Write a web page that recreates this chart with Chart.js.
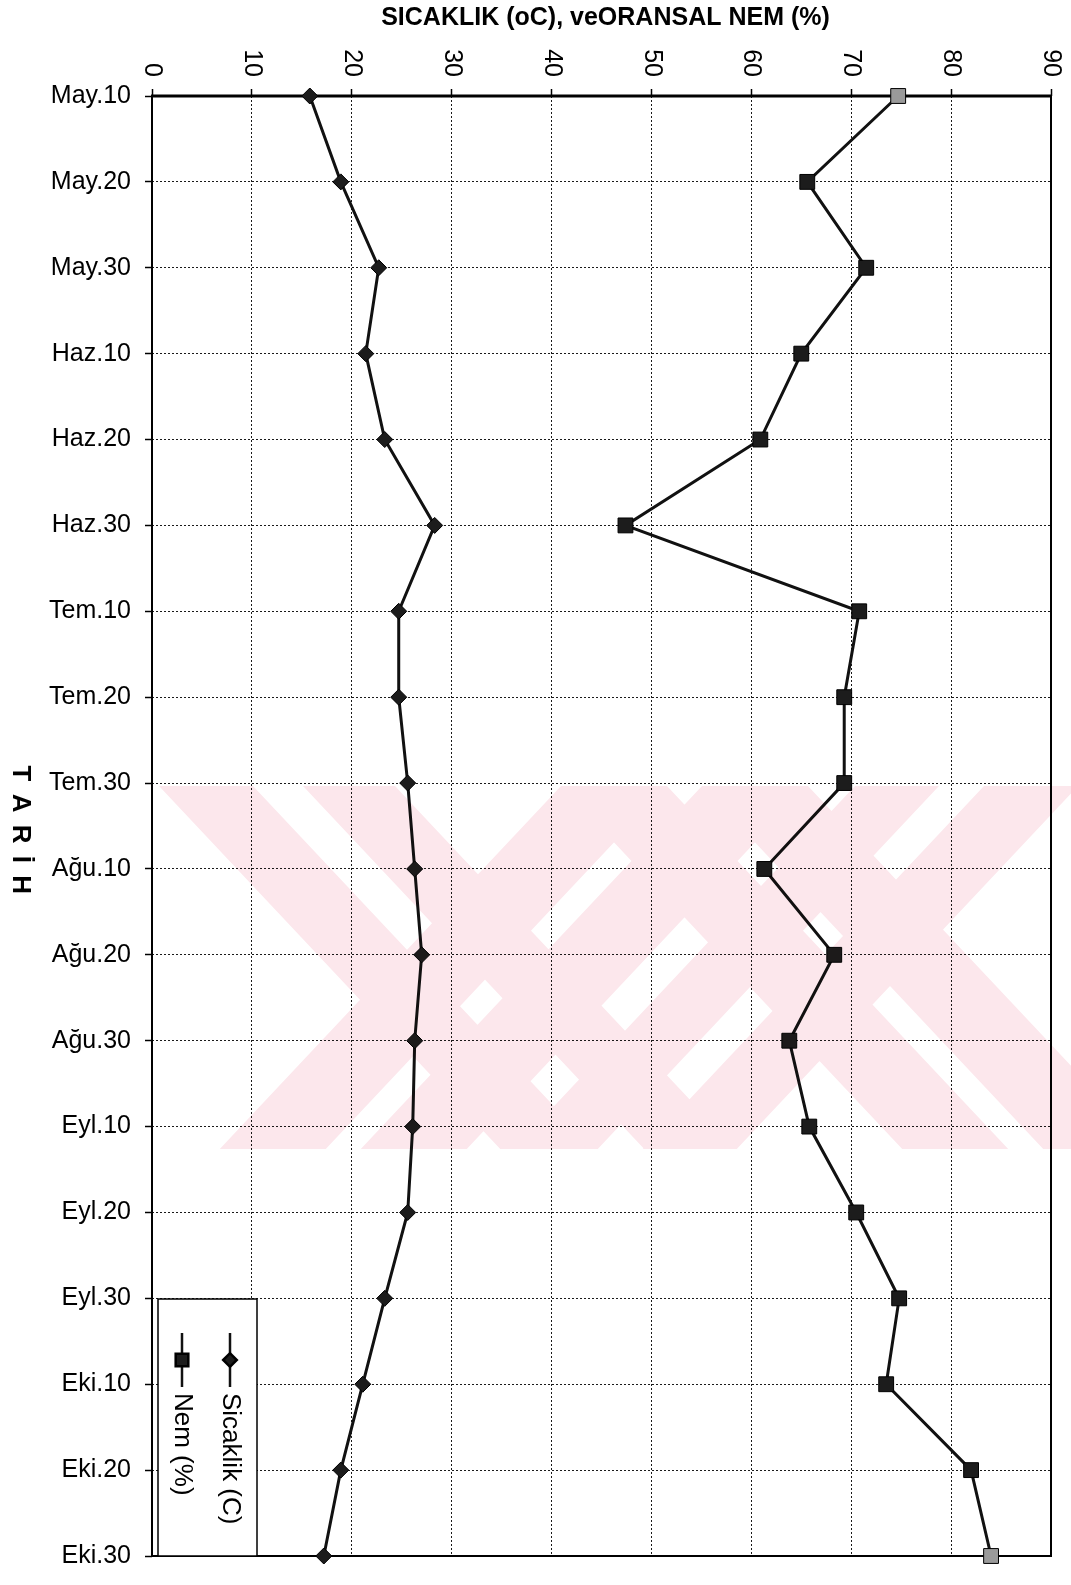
<!DOCTYPE html>
<html>
<head>
<meta charset="utf-8">
<script src="https://cdn.jsdelivr.net/npm/chart.js@4.4.1/dist/chart.umd.min.js"></script>
<style>
  html, body { margin: 0; padding: 0; background: #ffffff; }
  #wrap { position: relative; width: 1071px; height: 1585px; }
</style>
</head>
<body>
<div id="wrap"><canvas id="c" width="1071" height="1585"></canvas></div>
<script>
// Ten-day readings, May to October
const categories = ['May.10', 'May.20', 'May.30', 'Haz.10', 'Haz.20', 'Haz.30',
  'Tem.10', 'Tem.20', 'Tem.30', 'Ağu.10', 'Ağu.20', 'Ağu.30',
  'Eyl.10', 'Eyl.20', 'Eyl.30', 'Eki.10', 'Eki.20', 'Eki.30'];

// Air temperature (°C)
const sicaklik = [15.8, 18.9, 22.7, 21.4, 23.3, 28.3, 24.7, 24.7, 25.6,
  26.3, 27.0, 26.3, 26.1, 25.6, 23.3, 21.1, 18.9, 17.2];

// Relative humidity (%)
const nem = [74.7, 65.6, 71.5, 65.0, 60.9, 47.4, 70.8, 69.3, 69.3,
  61.3, 68.3, 63.8, 65.8, 70.5, 74.8, 73.5, 82.0, 84.0];

const valueTicks = [0, 10, 20, 30, 40, 50, 60, 70, 80, 90];
const seriesNames = ['Sicaklik (C)', 'Nem (%)'];
const chartTitle = 'SICAKLIK (oC), veORANSAL NEM (%)';
const dateAxisTitle = 'T A R İ H';

const FONT = '"Liberation Sans", Arial, Helvetica, sans-serif';
const INK = '#111111';

// Faint pink emblem behind the middle of the plot: slanted bands
const EMBLEM = {
  left: 157, top: 786, right: 1071, bottom: 1149,
  slope: 0.94,
  color: 'rgb(252, 231, 236)',
  // [x at top edge, x at top edge, directions]
  bands: [
    [159, 253, 'down'], [303, 395, 'down'],
    [561, 667, 'both'], [702, 808, 'both'],
    [855, 939, 'up'], [984, 1078, 'up']
  ]
};

const emblem = {
  id: 'emblem',
  afterDraw(chart) {
    const { ctx } = chart;
    const e = EMBLEM;
    const h = e.bottom - e.top;
    const dx = e.slope * h;
    ctx.save();
    ctx.beginPath();
    ctx.rect(e.left, e.top, e.right - e.left, h);
    ctx.clip();
    ctx.globalCompositeOperation = 'multiply';
    ctx.fillStyle = e.color;
    ctx.beginPath();
    e.bands.forEach(([a, b, dir]) => {
      if (dir === 'down' || dir === 'both') {
        ctx.moveTo(a, e.top); ctx.lineTo(b, e.top);
        ctx.lineTo(b + dx, e.bottom); ctx.lineTo(a + dx, e.bottom); ctx.closePath();
      }
      if (dir === 'up' || dir === 'both') {
        ctx.moveTo(a, e.top); ctx.lineTo(b, e.top);
        ctx.lineTo(b - dx, e.bottom); ctx.lineTo(a - dx, e.bottom); ctx.closePath();
      }
    });
    ctx.fill('nonzero');
    ctx.restore();
  }
};

// Plot frame, title, rotated value labels, rotated axis title and legend
const decorations = {
  id: 'decorations',
  beforeDatasetsDraw(chart) {
    const { ctx, chartArea: a } = chart;
    ctx.save();
    ctx.strokeStyle = '#000';
    ctx.lineWidth = 2;
    ctx.strokeRect(a.left, a.top, a.right - a.left, a.bottom - a.top);
    ctx.lineWidth = 3;
    ctx.beginPath();
    ctx.moveTo(a.left - 1, a.top);
    ctx.lineTo(a.right + 1, a.top);
    ctx.stroke();
    ctx.restore();
  },
  afterDraw(chart) {
    const { ctx, chartArea: a, scales } = chart;
    const xs = scales.x;
    ctx.save();
    ctx.fillStyle = '#000';

    // title
    ctx.font = 'bold 25px ' + FONT;
    ctx.textAlign = 'center';
    ctx.textBaseline = 'middle';
    ctx.fillText(chartTitle, (a.left + a.right) / 2 + 4, 18);

    // value labels, turned a quarter clockwise, ending just above the ticks
    ctx.font = '25px ' + FONT;
    xs.ticks.forEach(t => {
      const px = xs.getPixelForValue(t.value);
      ctx.save();
      ctx.translate(px, a.top - 19);
      ctx.rotate(Math.PI / 2);
      ctx.textAlign = 'right';
      ctx.textBaseline = 'middle';
      ctx.fillText(String(t.value), 0, 0);
      ctx.restore();
    });

    // date axis title
    ctx.save();
    ctx.font = 'bold 26px ' + FONT;
    try { ctx.letterSpacing = '2.5px'; } catch (e) {}
    ctx.translate(20, 831);
    ctx.rotate(Math.PI / 2);
    ctx.textAlign = 'center';
    ctx.textBaseline = 'middle';
    ctx.fillText(dateAxisTitle, 0, 0);
    ctx.restore();

    // legend box
    const box = { x: 158, y: 1299, w: 99, h: 257 };
    ctx.fillStyle = '#fff';
    ctx.fillRect(box.x, box.y, box.w, box.h);
    ctx.strokeStyle = '#000';
    ctx.lineWidth = 1.5;
    ctx.strokeRect(box.x, box.y, box.w, box.h);

    chart.data.datasets.forEach((ds, i) => {
      const cx = box.x + 72 - i * 48;
      ctx.strokeStyle = ds.borderColor;
      ctx.lineWidth = 2.5;
      ctx.beginPath();
      ctx.moveTo(cx, box.y + 34);
      ctx.lineTo(cx, box.y + 88);
      ctx.stroke();
      ctx.save();
      ctx.fillStyle = '#1c1c1c';
      ctx.strokeStyle = '#000';
      Chart.helpers.drawPoint(ctx, {
        pointStyle: ds.pointStyle,
        radius: ds.pointRadius * 0.85,
        borderWidth: ds.pointBorderWidth,
        rotation: 0
      }, cx, box.y + 61);
      ctx.restore();
      ctx.save();
      ctx.fillStyle = '#000';
      ctx.font = '26px ' + FONT;
      ctx.translate(cx, box.y + 94);
      ctx.rotate(Math.PI / 2);
      ctx.textAlign = 'left';
      ctx.textBaseline = 'middle';
      ctx.fillText(ds.label, 0, 0);
      ctx.restore();
    });
    ctx.restore();
  }
};

const gridLook = {
  color: '#1a1a1a',
  lineWidth: 1,
  borderDash: [2, 2],
  drawTicks: true,
  tickLength: 7,
  tickColor: '#000',
  tickWidth: 1.5,
  tickBorderDash: []
};

new Chart(document.getElementById('c'), {
  type: 'line',
  data: {
    labels: categories,
    datasets: [
      {
        label: seriesNames[0],
        data: sicaklik,
        borderColor: INK,
        borderWidth: 3,
        pointStyle: 'rectRot',
        pointRadius: 8,
        pointBackgroundColor: '#1c1c1c',
        pointBorderColor: '#000',
        pointBorderWidth: 1,
        tension: 0,
        clip: false
      },
      {
        label: seriesNames[1],
        data: nem,
        borderColor: INK,
        borderWidth: 3,
        pointStyle: 'rect',
        pointRadius: 10.5,
        pointBackgroundColor: c => (c.dataIndex === 0 || c.dataIndex === nem.length - 1) ? '#9a9a9a' : '#1c1c1c',
        pointBorderColor: '#000',
        pointBorderWidth: 1,
        tension: 0,
        clip: false
      }
    ]
  },
  options: {
    indexAxis: 'y',
    responsive: false,
    animation: false,
    devicePixelRatio: 1,
    layout: { padding: { left: 0, top: 0, right: 20, bottom: 19 } },
    plugins: {
      legend: { display: false },
      title: { display: false },
      tooltip: { enabled: false }
    },
    scales: {
      x: {
        type: 'linear',
        position: 'top',
        min: 0,
        max: 90,
        afterBuildTicks: s => { s.ticks = valueTicks.map(v => ({ value: v })); },
        afterFit: s => { s.height = 96; },
        ticks: { display: false },
        grid: gridLook,
        border: { display: false, dash: [2, 2] }
      },
      y: {
        type: 'category',
        position: 'left',
        offset: false,
        afterFit: s => { s.width = 152; },
        ticks: {
          autoSkip: false,
          color: '#000',
          padding: 14,
          font: { family: FONT, size: 25 }
        },
        grid: gridLook,
        border: { display: false, dash: [2, 2] }
      }
    }
  },
  plugins: [decorations, emblem]
});
</script>
</body>
</html>
